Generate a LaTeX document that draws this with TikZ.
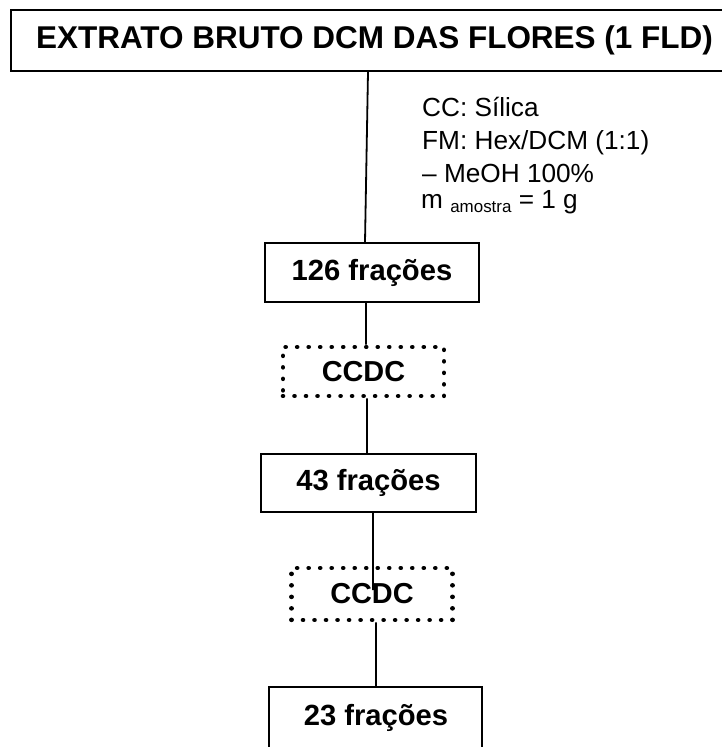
\documentclass[tikz,border=0pt]{standalone}
\usepackage{fontspec}
\setmainfont{Liberation Sans}
\begin{document}
\begin{tikzpicture}[x=1bp,y=-1bp,
  box/.style={draw=black, line width=1.7bp, inner sep=0pt, font=\fontsize{29.3}{34}\selectfont\bfseries},
  dotbox/.style={draw=black, line width=4.6bp, dash pattern=on 0.01bp off 11.5bp, line cap=round, inner sep=0pt, font=\fontsize{29}{34}\selectfont\bfseries},
  conn/.style={draw=black, line width=1.8bp},
  note/.style={anchor=base west, inner sep=0pt, font=\fontsize{26.3}{30}\selectfont}]
\useasboundingbox (0,0) rectangle (722,747);
% nodes
\node[box, minimum width=727bp, minimum height=61bp, font=\fontsize{31.6}{36}\selectfont\bfseries] (title) at (374.5,40.5) {EXTRATO BRUTO DCM DAS FLORES (1 FLD)};
\node[box, minimum width=214bp, minimum height=59bp] (n126) at (372,272.5) {126 frações};
\node[dotbox, minimum width=161bp, minimum height=49bp] (ccdc1) at (363.5,371.5) {CCDC};
\node[box, minimum width=215bp, minimum height=58bp] (n43) at (368.5,483) {43 frações};
\node[dotbox, minimum width=161bp, minimum height=52bp] (ccdc2) at (372,594) {CCDC};
\node[box, minimum width=213bp, minimum height=80bp] (n23) at (375.5,727) {};
\node[anchor=base, inner sep=0pt, font=\fontsize{29.3}{34}\selectfont\bfseries] (t23) at (376,725) {23 frações};
% annotation
\node[note] (l1) at (422,116) {CC: Sílica};
\node[note] (l2) at (422,149) {FM: Hex/DCM (1:1)};
\node[note] (l3) at (422,182) {– MeOH 100\%};
\node[note] (l4) at (421,208) {m \raisebox{-4bp}{\fontsize{17}{20}\selectfont amostra} = 1 g};
% connectors
\draw[conn] ([xshift=-6.5bp]title.south) -- ([xshift=-7bp]n126.north);
\draw[conn] ([xshift=-6bp]n126.south) -- ([xshift=2.5bp]ccdc1.north);
\draw[conn] ([xshift=3.5bp]ccdc1.south) -- ([xshift=-1.5bp]n43.north);
\draw[conn] ([xshift=4.5bp]n43.south) -- ([xshift=1bp,yshift=4bp]ccdc2.center);
\draw[conn] ([xshift=4bp]ccdc2.south) -- ([xshift=0.5bp]n23.north);
\end{tikzpicture}
\end{document}
